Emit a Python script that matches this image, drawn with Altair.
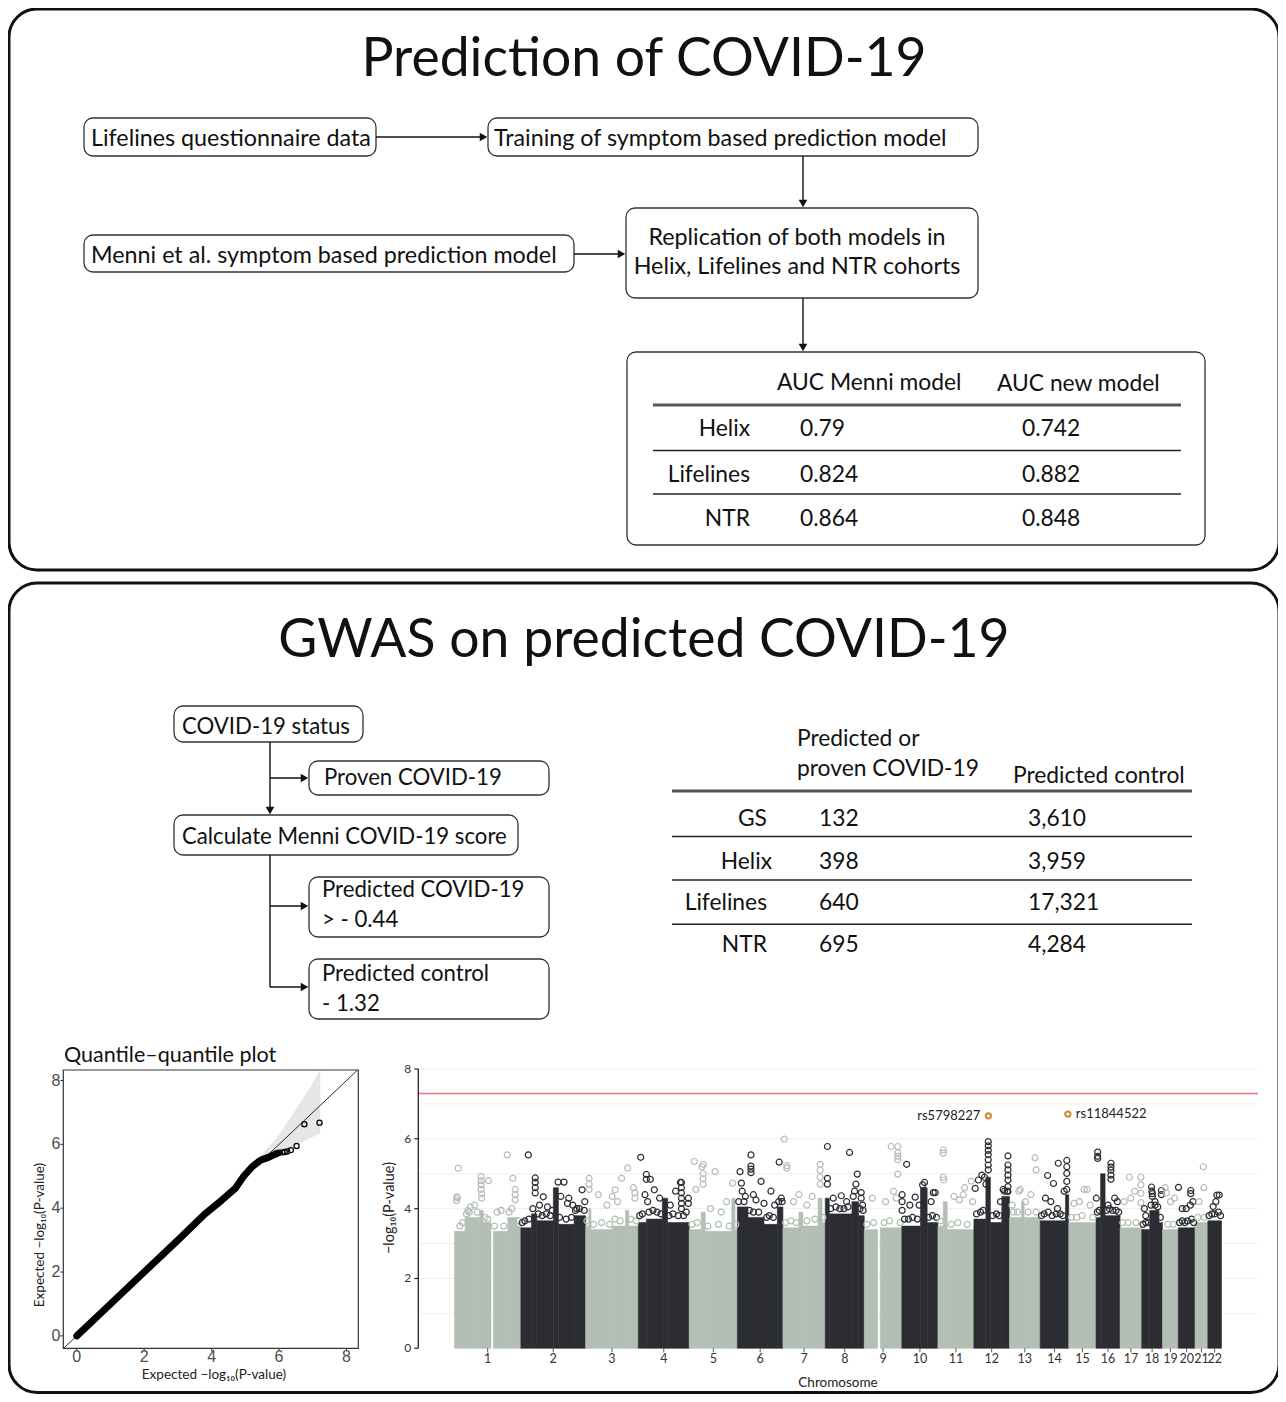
import altair as alt
import pandas as pd

W, H = 1270, 1386
FONT = "Lato"
NUMFONT = "Liberation Sans"
INK = "#111111"
LIGHT = "#b3beb4"
DARK = "#2b2d32"
ORANGE = "#cf8a2e"
RED = "#e8747c"

# ============================ data ============================
panel_titles = ["Prediction of COVID-19", "GWAS on predicted COVID-19"]
flow_top = ["Lifelines questionnaire data", "Training of symptom based prediction model",
            "Menni et al. symptom based prediction model"]
flow_top_center = ["Replication of both models in", "Helix, Lifelines and NTR cohorts"]
flow_bottom = ["COVID-19 status", "Proven COVID-19", "Calculate Menni COVID-19 score",
               "Predicted COVID-19", "> - 0.44", "Predicted control", "- 1.32"]

auc_header = ["AUC Menni model", "AUC new model"]
auc_cohorts = ["Helix", "Lifelines", "NTR"]
auc_menni = [0.79, 0.824, 0.864]
auc_new = [0.742, 0.882, 0.848]

gwas_header = ["Predicted or", "proven COVID-19", "Predicted control"]
gwas_cohorts = ["GS", "Helix", "Lifelines", "NTR"]
gwas_cases = [132, 398, 640, 695]
gwas_controls = [3610, 3959, 17321, 4284]

qq_title = "Quantile\u2013quantile plot"
qq_axis_title = "Expected \u2212log\u2081\u2080(P-value)"
qq_expected = [0.0, 1.0, 2.0, 3.0, 3.8, 4.3, 4.7, 4.95, 5.2, 5.45, 5.7, 5.95]
qq_observed = [0.0, 1.0, 2.0, 3.0, 3.82, 4.25, 4.62, 5.0, 5.3, 5.5, 5.6, 5.72]
qq_tail_expected = [6.0, 6.1, 6.17, 6.24, 6.35, 6.52, 6.75, 7.2]
qq_tail_observed = [5.74, 5.75, 5.76, 5.78, 5.82, 5.95, 6.63, 6.68]
ci_expected = [5.3, 5.7, 6.0, 6.45, 6.9, 7.22]
ci_lower = [5.35, 5.6, 5.72, 5.93, 6.18, 6.34]
ci_upper = [5.45, 5.95, 6.29, 7.02, 7.75, 8.33]
qq_ticks = [0, 2, 4, 6, 8]

chrom_labels = [str(i) for i in range(1, 23)]
chrom_len_mb = [249.25, 243.2, 198.0, 191.15, 180.9, 171.1, 159.1, 146.4, 141.2, 135.5, 135.0,
                133.85, 115.2, 107.35, 102.5, 90.35, 81.2, 78.1, 59.1, 63.0, 48.1, 51.3]

# dense part of each chromosome: (start Mb, end Mb, top -log10 P)
core_segments = {
    1: [(0, 40, 3.35), (40, 95, 3.75), (95, 108, 3.95), (108, 137, 3.6), (146, 200, 3.35), (200, 235, 3.75), (235, 249.25, 3.5)],
    2: [(0, 40, 3.45), (40, 60, 3.85), (60, 122, 3.65), (122, 141, 4.6), (141, 200, 3.55), (200, 243.2, 3.8)],
    3: [(0, 12, 3.5), (12, 20, 4.0), (20, 100, 3.4), (100, 150, 3.5), (150, 162, 3.95), (162, 198, 3.5)],
    4: [(0, 30, 3.6), (30, 90, 3.7), (90, 110, 4.3), (110, 191.15, 3.6)],
    5: [(0, 45, 3.4), (45, 60, 3.9), (60, 160, 3.35), (160, 172, 4.3), (172, 180.9, 3.4)],
    6: [(0, 40, 4.05), (40, 100, 3.75), (100, 150, 3.55), (150, 171.1, 4.05)],
    7: [(0, 60, 3.45), (60, 75, 3.9), (75, 132, 3.5), (132, 147, 4.3), (147, 159.1, 3.6)],
    8: [(0, 15, 4.3), (15, 100, 3.85), (100, 125, 4.2), (125, 146.4, 3.8)],
    9: [(0, 50, 3.4), (60, 141.2, 3.45)],
    10: [(0, 70, 3.5), (70, 95, 4.6), (95, 135.5, 3.6)],
    11: [(0, 20, 3.5), (20, 35, 4.2), (35, 135.0, 3.4)],
    12: [(0, 45, 3.7), (45, 62, 4.9), (62, 105, 3.6), (105, 133.85, 4.35)],
    13: [(0, 45, 3.75), (45, 55, 4.2), (55, 115.2, 3.75)],
    14: [(0, 95, 3.65), (95, 107.35, 4.4)],
    15: [(0, 102.5, 3.6)],
    16: [(0, 17, 3.75), (17, 34, 5.0), (34, 90.35, 3.8)],
    17: [(0, 81.2, 3.45)],
    18: [(0, 30, 3.4), (30, 65, 3.95), (65, 78.1, 3.6)],
    19: [(0, 59.1, 3.4)],
    20: [(0, 63.0, 3.45)],
    21: [(0, 48.1, 3.6)],
    22: [(0, 51.3, 3.65)],
}

# sparse variants above the dense part: (position Mb, -log10 P)
outliers = {
    1: [(14, 5.16), (9, 4.34), (8, 4.23), (10, 4.31), (100, 4.92), (100, 4.8), (100, 4.68), (100, 4.55), (102, 4.42), (102, 4.3),
        (127, 4.8), (198, 5.54), (219, 4.87), (228, 4.55), (228, 4.4), (228, 4.25), (50, 3.95), (60, 4.05), (75, 4.1), (160, 3.9), (175, 3.95)],
    2: [(28, 5.54), (54, 4.88), (54, 4.75), (54, 4.6), (54, 4.45), (140, 4.76), (162, 4.76), (84, 4.34), (180, 4.3), (195, 4.1),
        (210, 4.0), (230, 4.54), (240, 4.2), (100, 4.05), (70, 4.1), (175, 4.15), (150, 4.35)],
    3: [(13, 4.87), (13, 4.7), (13, 4.55), (158, 5.16), (135, 4.87), (111, 4.54), (48, 4.4), (100, 4.35), (120, 4.2), (180, 4.6),
        (185, 4.45), (185, 4.3), (80, 4.1)],
    4: [(9, 5.47), (30, 4.98), (30, 4.84), (45, 4.84), (60, 4.54), (158, 4.75), (162, 4.75), (162, 4.6), (162, 4.45), (162, 4.3),
        (162, 4.15), (162, 4.0), (140, 4.5), (188, 4.3), (188, 4.15), (25, 4.4), (35, 4.2), (80, 4.3), (120, 4.1)],
    5: [(19, 5.35), (53, 5.27), (97, 5.06), (48, 5.2), (52, 5.0), (52, 4.85), (52, 4.7), (163, 4.73), (140, 4.2), (25, 4.55),
        (80, 4.0), (120, 3.9)],
    6: [(51, 5.54), (51, 5.22), (51, 5.13), (51, 5.03), (10, 5.06), (89, 4.78), (157, 5.33), (126, 4.5), (15, 4.73), (18, 4.5),
        (30, 4.35), (70, 4.25), (100, 4.15), (140, 4.1), (165, 4.3), (60, 4.4)],
    7: [(5, 5.99), (15, 5.23), (15, 5.16), (140, 5.27), (140, 5.1), (140, 4.9), (140, 4.7), (110, 4.35), (40, 4.2), (60, 4.4), (90, 4.1)],
    8: [(8, 5.78), (91, 5.61), (120, 4.99), (8, 4.87), (8, 4.7), (60, 4.37), (135, 4.46), (135, 4.3), (140, 4.1), (30, 4.3),
        (110, 4.5), (115, 4.7), (80, 4.2)],
    9: [(101, 5.78), (126, 5.78), (126, 5.6), (126, 5.5), (126, 5.4), (126, 4.99), (110, 4.5), (30, 4.3), (80, 4.2), (120, 4.3)],
    10: [(18, 5.27), (1, 4.4), (1, 4.2), (1, 3.95), (78, 4.68), (50, 4.33), (65, 4.1), (118, 4.46), (125, 4.46), (30, 4.1), (110, 4.2)],
    11: [(20, 5.68), (20, 5.59), (20, 4.9), (22, 4.82), (100, 4.6), (95, 4.4), (125, 4.79), (60, 4.35), (80, 4.25), (130, 4.2)],
    12: [(54, 5.92), (54, 5.8), (54, 5.67), (54, 5.55), (54, 5.4), (54, 5.25), (54, 5.11), (128, 5.51), (128, 5.25), (128, 5.11),
         (128, 4.96), (128, 4.82), (128, 4.63), (128, 4.49), (30, 4.96), (17, 4.82), (5, 4.58), (40, 4.9), (45, 4.7), (100, 4.2), (110, 4.55)],
    13: [(96, 5.46), (100, 5.11), (35, 4.5), (40, 4.55), (80, 4.4), (60, 4.2), (10, 4.1)],
    14: [(28, 4.95), (68, 5.3), (100, 5.38), (100, 5.2), (100, 5.01), (100, 4.78), (50, 4.72), (40, 4.2), (65, 4.0), (20, 4.3), (90, 4.5)],
    15: [(58, 4.55), (69, 4.55), (40, 4.2), (80, 4.1), (20, 4.15)],
    16: [(6, 5.62), (6, 5.5), (6, 5.44), (56, 5.3), (56, 5.19), (56, 5.1), (56, 4.96), (56, 4.84), (1, 4.3), (80, 4.2), (70, 4.3), (45, 4.1)],
    17: [(35, 4.9), (78, 4.9), (78, 4.68), (78, 4.44), (78, 4.17), (55, 4.5), (15, 4.2), (40, 4.3)],
    18: [(37, 4.62), (38, 4.5), (40, 4.43), (40, 4.35), (74, 4.52), (74, 4.4), (15, 3.8), (10, 4.0), (50, 4.2)],
    19: [(30, 4.2), (10, 4.6), (15, 4.45), (45, 4.3)],
    20: [(1, 4.61), (47, 4.52), (47, 4.43), (45, 4.1), (30, 4.0), (15, 4.0), (55, 4.2)],
    21: [(31, 5.2), (33, 4.6), (15, 4.2)],
    22: [(34, 4.39), (43, 4.39), (20, 4.06), (30, 4.2)],
}

# variants on the ragged upper edge of the dense part: (position Mb, -log10 P)
fringe = {
    1: [(20, 3.5), (30, 3.6), (45, 3.85), (55, 3.9), (85, 3.9), (115, 3.75), (125, 3.7), (150, 3.5), (185, 3.5), (205, 3.9), (215, 4.0), (240, 3.65)],
    2: [(5, 3.6), (15, 3.65), (30, 3.7), (45, 4.0), (65, 3.85), (80, 3.8), (95, 3.85), (110, 3.8), (118, 3.95), (145, 3.75), (170, 3.7),
        (190, 3.75), (205, 3.95), (220, 4.0), (238, 3.95)],
    3: [(5, 3.65), (30, 3.55), (60, 3.6), (90, 3.55), (110, 3.7), (130, 3.65), (170, 3.7), (190, 3.65)],
    4: [(5, 3.8), (15, 3.85), (40, 3.9), (55, 3.95), (70, 3.9), (85, 3.85), (115, 3.8), (130, 3.85), (150, 3.8), (170, 3.8), (180, 3.9)],
    5: [(10, 3.55), (30, 3.6), (70, 3.5), (110, 3.55), (150, 3.5), (175, 3.55)],
    6: [(5, 4.2), (25, 4.2), (45, 3.95), (60, 3.9), (80, 3.9), (110, 3.75), (120, 3.8), (135, 3.75), (155, 4.2), (168, 4.2)],
    7: [(10, 3.6), (30, 3.65), (50, 3.6), (90, 3.65), (120, 3.7), (150, 3.75)],
    8: [(20, 4.0), (40, 4.05), (55, 4.0), (70, 4.0), (85, 4.05), (105, 4.35), (130, 4.0), (142, 3.95)],
    9: [(10, 3.55), (35, 3.6), (75, 3.6), (95, 3.65), (135, 3.6)],
    10: [(10, 3.7), (25, 3.7), (40, 3.75), (58, 3.7), (85, 4.75), (100, 3.75), (115, 3.8), (130, 3.75)],
    11: [(10, 3.65), (50, 3.55), (75, 3.6), (110, 3.55)],
    12: [(10, 3.85), (25, 3.9), (35, 3.95), (70, 3.8), (85, 3.85), (95, 3.8), (115, 4.5), (125, 4.5)],
    13: [(15, 3.9), (30, 3.9), (70, 3.9), (100, 3.9)],
    14: [(5, 3.8), (15, 3.85), (30, 3.9), (45, 3.8), (60, 3.85), (75, 3.85), (85, 3.8), (100, 4.55)],
    15: [(10, 3.75), (30, 3.75), (50, 3.8), (90, 3.75)],
    16: [(5, 3.9), (12, 3.95), (40, 3.95), (50, 4.0), (62, 3.95), (75, 3.95), (85, 3.9)],
    17: [(10, 3.6), (30, 3.6), (60, 3.6)],
    18: [(5, 3.55), (15, 3.6), (25, 3.6), (35, 4.1), (50, 4.1), (60, 4.05), (70, 3.75)],
    19: [(20, 3.55), (40, 3.55)],
    20: [(5, 3.6), (15, 3.65), (25, 3.6), (35, 3.65), (50, 3.7), (58, 3.6)],
    21: [(10, 3.75), (35, 3.75)],
    22: [(5, 3.8), (15, 3.85), (25, 3.85), (40, 3.9), (48, 3.8)],
}

snp_names = ["rs5798227", "rs11844522"]
snp_chr = [12, 14]
snp_pos_mb = [54.5, 104.0]
snp_logp = [6.66, 6.71]
genome_wide_threshold = 7.30
man_y_ticks = [0, 2, 4, 6, 8]
man_grid = [1, 2, 3, 4, 5, 6, 7, 8]
man_y_title = "\u2212log\u2081\u2080(P-value)"
man_x_title = "Chromosome"

# ============================ layout (page pixels) ============================
px_scale = alt.Scale(domain=[8, 8 + W], range=[0, W], nice=False, zero=False)
py_scale = alt.Scale(domain=[8, 8 + H], range=[0, H], nice=False, zero=False)


def PX(f):
    return alt.X(f"{f}:Q", scale=px_scale, axis=None)


def PY(f):
    return alt.Y(f"{f}:Q", scale=py_scale, axis=None)


outer_boxes = pd.DataFrame({"x": [9, 9], "y": [9, 583], "x2": [1279, 1279], "y2": [570, 1392.5]})
inner_boxes = pd.DataFrame({
    "x": [84, 488, 626, 84, 627, 174, 309, 174, 309, 309],
    "y": [118, 118, 208, 235, 352, 706, 761, 815, 877, 959],
    "x2": [376, 978, 978, 574, 1205, 363, 549, 518, 549, 549],
    "y2": [156, 156, 298, 272, 545, 742, 795, 855, 937, 1019],
})
connectors = pd.DataFrame({
    "x": [376, 803, 574, 803, 270, 270, 270, 270, 270],
    "y": [137, 156, 254, 298, 742, 778, 855, 906, 987],
    "x2": [482, 803, 620, 803, 270, 303, 270, 303, 303],
    "y2": [137, 202, 254, 346, 809, 778, 987, 906, 987],
})
heads = pd.DataFrame({
    "x": [483.5, 803, 621.5, 803, 270, 304.5, 304.5, 304.5],
    "y": [137, 203.5, 254, 347.5, 810.5, 778, 906, 987],
    "shape": ["triangle-right", "triangle-down", "triangle-right", "triangle-down",
              "triangle-down", "triangle-right", "triangle-right", "triangle-right"],
})
table_rules = pd.DataFrame({
    "x": [653, 653, 653, 672, 672, 672, 672],
    "x2": [1181, 1181, 1181, 1192, 1192, 1192, 1192],
    "y": [405, 450.5, 494, 791, 836.5, 880, 924.3],
    "sw": [3, 1.4, 1.4, 3, 1.4, 1.4, 1.4],
    "c": ["#555555", "#222222", "#222222", "#555555", "#222222", "#222222", "#222222"],
})

FS_TOP, FS_BOT, FS_TAB, FS_TITLE = 23.3, 22.2, 22.8, 53.5
left_rows = []
for t, x, y in zip(flow_top, [91, 494, 91], [146, 146, 263]):
    left_rows.append((t, x, y, FS_TOP))
for t, x, y in zip(flow_bottom, [182, 324, 182, 322, 322, 322, 322], [734, 785, 844, 897, 927, 981, 1011]):
    left_rows.append((t, x, y, FS_BOT))
for t, x, y in zip(auc_header, [777, 997], [390, 391]):
    left_rows.append((t, x, y, FS_TAB))
auc_base = [435.5, 482, 525.5]
for a, b, y in zip(auc_menni, auc_new, auc_base):
    left_rows.append((str(a), 800, y, FS_TAB))
    left_rows.append((str(b), 1022, y, FS_TAB))
for t, x, y in zip(gwas_header, [797, 797, 1013], [745.5, 776, 783]):
    left_rows.append((t, x, y, FS_TAB))
gwas_base = [826, 868.5, 910, 951.5]
for a, b, y in zip(gwas_cases, gwas_controls, gwas_base):
    left_rows.append((f"{a:,}", 819, y, FS_TAB))
    left_rows.append((f"{b:,}", 1028, y, FS_TAB))
left_rows.append((qq_title, 64, 1062, 21.5))
left_df = pd.DataFrame(left_rows, columns=["t", "x", "y", "fs"])

right_rows = []
for t, y in zip(auc_cohorts, auc_base):
    right_rows.append((t, 750, y, FS_TAB))
for t, y, x in zip(gwas_cohorts, gwas_base, [767, 772, 767, 767]):
    right_rows.append((t, x, y, FS_TAB))
right_df = pd.DataFrame(right_rows, columns=["t", "x", "y", "fs"])

center_rows = [(flow_top_center[0], 797, 245, FS_TOP), (flow_top_center[1], 797, 274, FS_TOP),
               (panel_titles[0], 644, 76, FS_TITLE), (panel_titles[1], 644, 657, FS_TITLE)]
center_df = pd.DataFrame(center_rows, columns=["t", "x", "y", "fs"])

axis_title_rows = pd.DataFrame({"t": [qq_axis_title, man_x_title], "x": [214, 838], "y": [1375, 1383],
                                "fs": [13.5, 13.5]})
axis_title_rot = pd.DataFrame({"t": [qq_axis_title, man_y_title], "x": [40, 390], "y": [1235, 1208],
                               "fs": [13.5, 14.5]})

# ============================ diagram layer ============================
outer = alt.Chart(outer_boxes).mark_rect(fill="transparent", stroke=INK, strokeWidth=3, cornerRadius=28).encode(
    x=PX("x"), x2="x2", y=PY("y"), y2="y2")
inner = alt.Chart(inner_boxes).mark_rect(fill="transparent", stroke="#333333", strokeWidth=1.3, cornerRadius=9).encode(
    x=PX("x"), x2="x2", y=PY("y"), y2="y2")
lines = alt.Chart(connectors).mark_rule(color=INK, strokeWidth=1.4).encode(
    x=PX("x"), x2="x2", y=PY("y"), y2="y2")
arrowheads = alt.Chart(heads).mark_point(filled=True, size=75, color=INK, opacity=1).encode(
    x=PX("x"), y=PY("y"), shape=alt.Shape("shape:N", scale=None))
trules = alt.Chart(table_rules).mark_rule().encode(
    x=PX("x"), x2="x2", y=PY("y"),
    strokeWidth=alt.StrokeWidth("sw:Q", scale=None), color=alt.Color("c:N", scale=None))


def text_layer(df, align):
    return alt.Chart(df).mark_text(align=align, baseline="alphabetic", font=FONT, color=INK).encode(
        x=PX("x"), y=PY("y"), text="t:N", size=alt.Size("fs:Q", scale=None))


ax_titles = alt.Chart(axis_title_rows).mark_text(align="center", baseline="middle", font=FONT,
                                                 color="#222222").encode(
    x=PX("x"), y=PY("y"), text="t:N", size=alt.Size("fs:Q", scale=None))
ax_titles_rot = alt.Chart(axis_title_rot).mark_text(align="center", baseline="middle", font=FONT,
                                                    angle=270, color="#222222").encode(
    x=PX("x"), y=PY("y"), text="t:N", size=alt.Size("fs:Q", scale=None))

diagram = alt.layer(outer, inner, lines, arrowheads, trules,
                    text_layer(left_df, "left"), text_layer(right_df, "right"), text_layer(center_df, "center"),
                    ax_titles, ax_titles_rot)

# ============================ QQ plot ============================
QX_DOM = [-0.4, 8.35]
QY_DOM = [-0.39, 8.33]
qx = alt.Scale(domain=QX_DOM, range=[55.3, 350.3], nice=False, zero=False)
qy = alt.Scale(domain=QY_DOM, range=[1340.3, 1062], nice=False, zero=False)


def QX(f):
    return alt.X(f"{f}:Q", scale=qx, axis=None)


def QY(f):
    return alt.Y(f"{f}:Q", scale=qy, axis=None)


qq_line_df = pd.DataFrame({"e": qq_expected, "o": qq_observed})
qq_tail_df = pd.DataFrame({"e": qq_tail_expected, "o": qq_tail_observed})
ci_df = pd.DataFrame({"e": ci_expected, "lo": ci_lower, "hi": ci_upper})
diag_df = pd.DataFrame({"v": [QX_DOM[0], QY_DOM[1]]})
frame_df = pd.DataFrame({"x0": [QX_DOM[0]], "x1": [QX_DOM[1]], "y0": [QY_DOM[0]], "y1": [QY_DOM[1]]})
qtick_df = pd.DataFrame({"v": qq_ticks, "xmin": QX_DOM[0], "ymin": QY_DOM[0],
                         "xt": QX_DOM[0] - 0.09, "yt": QY_DOM[0] - 0.095})

band = alt.Chart(ci_df).mark_area(color="#e6e6e6").encode(x=QX("e"), y=QY("lo"), y2="hi")
diag_line = alt.Chart(diag_df).mark_line(color=INK, strokeWidth=0.9).encode(x=QX("v"), y=QY("v"))
curve = alt.Chart(qq_line_df).mark_line(color="#000000", strokeWidth=7, strokeCap="round", strokeJoin="round").encode(
    x=QX("e"), y=QY("o"))
tail = alt.Chart(qq_tail_df).mark_point(filled=False, color="#000000", size=26, strokeWidth=1.3, opacity=1).encode(
    x=QX("e"), y=QY("o"))
frame = alt.Chart(frame_df).mark_rect(fill="transparent", stroke="#333333", strokeWidth=1.2).encode(
    x=QX("x0"), x2="x1", y=QY("y0"), y2="y1")
qxt = alt.Chart(qtick_df).mark_rule(color="#333333", strokeWidth=1).encode(x=QX("v"), y=QY("ymin"), y2="yt")
qyt = alt.Chart(qtick_df).mark_rule(color="#333333", strokeWidth=1).encode(y=QY("v"), x=QX("xmin"), x2="xt")
qxl = alt.Chart(qtick_df).mark_text(baseline="top", dy=1, font=NUMFONT, fontSize=16, color="#4d4d4d").encode(
    x=QX("v"), y=QY("ymin"), text="v:Q")
qyl = alt.Chart(qtick_df).mark_text(align="right", baseline="middle", dx=-3, font=NUMFONT, fontSize=16,
                                    color="#4d4d4d").encode(x=QX("xmin"), y=QY("v"), text="v:Q")
qq = alt.layer(band, diag_line, curve, tail, frame, qxt, qyt, qxl, qyl)

# ============================ Manhattan plot ============================
cum = []
acc = 0.0
for L in chrom_len_mb:
    cum.append(acc)
    acc += L
mids = [c + L / 2 for c, L in zip(cum, chrom_len_mb)]


def tone_of(ch):
    return "light" if ch % 2 else "dark"


seg_rows = []
for ch, segs in core_segments.items():
    for s, e, top in segs:
        seg_rows.append({"x": cum[ch - 1] + s, "x2": cum[ch - 1] + e, "top": top, "base": 0.0, "tone": tone_of(ch)})
seg_df = pd.DataFrame(seg_rows)
pt_rows = []
for src in (fringe, outliers):
    for ch, pts in src.items():
        for p, v in pts:
            pt_rows.append({"x": cum[ch - 1] + p, "v": v, "tone": tone_of(ch)})
pt_df = pd.DataFrame(pt_rows)
snp_df = pd.DataFrame({"name": snp_names, "x": [cum[c - 1] + p for c, p in zip(snp_chr, snp_pos_mb)], "v": snp_logp})

MX_DOM = [-136, 3018]
MY_DOM = [0, 8]
mx = alt.Scale(domain=MX_DOM, range=[410.3, 1250], nice=False, zero=False)
my = alt.Scale(domain=MY_DOM, range=[1340.3, 1061], nice=False, zero=False)
tone = alt.Scale(domain=["light", "dark"], range=[LIGHT, DARK])


def MXe(f):
    return alt.X(f"{f}:Q", scale=mx, axis=None)


def MYe(f):
    return alt.Y(f"{f}:Q", scale=my, axis=None)


hline_df = pd.DataFrame({"g": man_grid + [genome_wide_threshold],
                         "kind": ["grid"] * len(man_grid) + ["threshold"],
                         "x0": MX_DOM[0], "x1": MX_DOM[1]})
ytick_df = pd.DataFrame({"v": man_y_ticks, "x0": MX_DOM[0], "xt": MX_DOM[0] - 15})
xtick_df = pd.DataFrame({"m": mids, "lab": chrom_labels, "y0": 0.0, "yt": -0.115})
ydom_df = pd.DataFrame({"x0": [MX_DOM[0]], "y0": [MY_DOM[0]], "y1": [MY_DOM[1]]})

hlines = alt.Chart(hline_df).mark_rule().encode(
    y=MYe("g"), x=MXe("x0"), x2="x1",
    color=alt.Color("kind:N", scale=alt.Scale(domain=["grid", "threshold"], range=["#efefef", RED]), legend=None),
    strokeWidth=alt.StrokeWidth("kind:N", scale=alt.Scale(domain=["grid", "threshold"], range=[1, 1.5]), legend=None))
segs = alt.Chart(seg_df).mark_rect(strokeWidth=0.6).encode(
    x=MXe("x"), x2="x2", y=MYe("top"), y2="base",
    fill=alt.Fill("tone:N", scale=tone, legend=None), stroke=alt.Stroke("tone:N", scale=tone, legend=None))
pts = alt.Chart(pt_df).mark_point(filled=False, size=36, strokeWidth=1.2, opacity=1).encode(
    x=MXe("x"), y=MYe("v"), stroke=alt.Stroke("tone:N", scale=tone, legend=None))
snp_pts = alt.Chart(snp_df).mark_point(filled=False, size=28, strokeWidth=2, color=ORANGE, opacity=1).encode(
    x=MXe("x"), y=MYe("v"))
snp_left = alt.Chart(snp_df).transform_filter(alt.datum.name == snp_names[0]).mark_text(
    align="right", baseline="middle", dx=-8, font=FONT, fontSize=13, color="#222222").encode(
    x=MXe("x"), y=MYe("v"), text="name:N")
snp_right = alt.Chart(snp_df).transform_filter(alt.datum.name == snp_names[1]).mark_text(
    align="left", baseline="middle", dx=8, font=FONT, fontSize=13, color="#222222").encode(
    x=MXe("x"), y=MYe("v"), text="name:N")
ydomain = alt.Chart(ydom_df).mark_rule(color="#222222", strokeWidth=1.3).encode(x=MXe("x0"), y=MYe("y0"), y2="y1")
yticks = alt.Chart(ytick_df).mark_rule(color="#222222", strokeWidth=1.2).encode(y=MYe("v"), x=MXe("x0"), x2="xt")
ylabels = alt.Chart(ytick_df).mark_text(align="right", baseline="middle", dx=-7, font=FONT, fontSize=12,
                                        color="#333333").encode(x=MXe("x0"), y=MYe("v"), text="v:Q")
xticks = alt.Chart(xtick_df).mark_rule(color="#555555", strokeWidth=1).encode(x=MXe("m"), y=MYe("y0"), y2="yt")
xlabels = alt.Chart(xtick_df).mark_text(baseline="top", dy=5, font=FONT, fontSize=12.5, color="#333333").encode(
    x=MXe("m"), y=MYe("y0"), text="lab:N")
manhattan = alt.layer(hlines, segs, pts, snp_pts, snp_left, snp_right, ydomain, yticks, ylabels, xticks, xlabels)

chart = alt.layer(diagram, qq, manhattan).resolve_scale(
    x="independent", y="independent", color="independent", stroke="independent", fill="independent",
    shape="independent", size="independent", strokeWidth="independent"
).properties(
    width=W, height=H, padding=0, background="white",
    autosize=alt.AutoSizeParams(type="none"),
).configure_view(stroke=None)

chart.save("out.html", embed_options={"renderer": "svg", "actions": False})
